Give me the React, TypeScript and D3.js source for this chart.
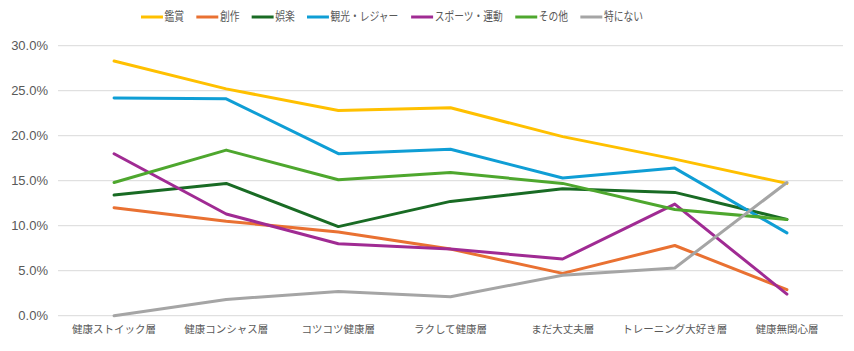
import React from "react";
import * as d3 from "d3";

const categories = ["健康ストイック層", "健康コンシャス層", "コツコツ健康層", "ラクして健康層", "まだ大丈夫層", "トレーニング大好き層", "健康無関心層"];
const seriesNames = ["鑑賞", "創作", "娯楽", "観光・レジャー", "スポーツ・運動", "その他", "特にない"];
const seriesColors = ["#FFC000", "#E97132", "#196B24", "#0F9ED5", "#A02B93", "#4EA72E", "#A5A5A5"];
const kansho = [28.3, 25.2, 22.8, 23.1, 19.9, 17.4, 14.7];
const sosaku = [12.0, 10.5, 9.3, 7.4, 4.7, 7.8, 2.9];
const goraku = [13.4, 14.7, 9.9, 12.7, 14.1, 13.7, 10.7];
const kanko = [24.2, 24.1, 18.0, 18.5, 15.3, 16.4, 9.2];
const sports = [18.0, 11.3, 8.0, 7.4, 6.3, 12.4, 2.4];
const sonota = [14.8, 18.4, 15.1, 15.9, 14.7, 11.8, 10.7];
const tokuni = [0.0, 1.8, 2.7, 2.1, 4.5, 5.3, 14.8];
const yTicks = [0, 5, 10, 15, 20, 25, 30];

const allSeries = [kansho, sosaku, goraku, kanko, sports, sonota, tokuni];

const W = 854, H = 351;
const plotLeft = 58, plotRight = 843, plotTop = 45.7, plotBottom = 315.7;
const legendLeft = 141, legendRight = 643;

function measure(text: string, font: string): number {
  const c = document.createElement("canvas").getContext("2d");
  if (!c) return text.length * 10;
  c.font = font;
  return c.measureText(text).width;
}

export default function App() {
  const x = d3.scaleBand<string>().domain(categories).range([plotLeft, plotRight]);
  const y = d3.scaleLinear().domain([0, 30]).range([plotBottom, plotTop]);
  const line = d3.line<number>()
    .x((_, i) => (x(categories[i]) as number) + x.bandwidth() / 2)
    .y((d) => y(d));

  const legendFont = "12px 'Noto Sans CJK JP'";
  const swatch = 27, gapText = 2, gapItem = 15;
  const widths = seriesNames.map((n) => swatch + gapText + measure(n, legendFont));
  const total = d3.sum(widths) + gapItem * (seriesNames.length - 1);
  const k = (legendRight - legendLeft) / total;
  let cx = 0;
  const legendX = widths.map((w) => { const p = cx; cx += w + gapItem; return p; });

  return (
    <svg width={W} height={H} style={{ position: "absolute", left: 0, top: 0, background: "#fff" }}>
      {yTicks.map((t) => (
        <g key={t}>
          <line x1={plotLeft} x2={plotRight} y1={y(t)} y2={y(t)} stroke="#D9D9D9" strokeWidth={1} />
          <text x={48} y={y(t)} dy="0.35em" textAnchor="end" fontFamily="'Liberation Sans', Arial, sans-serif" fontSize={13} fill="#595959">
            {t.toFixed(1) + "%"}
          </text>
        </g>
      ))}
      {categories.map((c) => (
        <text key={c} x={(x(c) as number) + x.bandwidth() / 2} y={333} textAnchor="middle"
          fontFamily="'Noto Sans CJK JP', sans-serif" fontSize={10.5} fill="#595959">{c}</text>
      ))}
      {allSeries.map((s, i) => (
        <path key={i} d={line(s) || ""} fill="none" stroke={seriesColors[i]} strokeWidth={3} strokeLinejoin="round" strokeLinecap="round" />
      ))}
      <g transform={`translate(${legendLeft},17) scale(${k},1)`}>
        {seriesNames.map((n, i) => (
          <g key={n} transform={`translate(${legendX[i]},0)`}>
            <line x1={0} x2={swatch} y1={0} y2={0} stroke={seriesColors[i]} strokeWidth={3} />
            <text x={swatch + gapText} y={0} dy="0.35em" fontFamily="'Noto Sans CJK JP', sans-serif" fontSize={12} fill="#595959">{n}</text>
          </g>
        ))}
      </g>
    </svg>
  );
}
